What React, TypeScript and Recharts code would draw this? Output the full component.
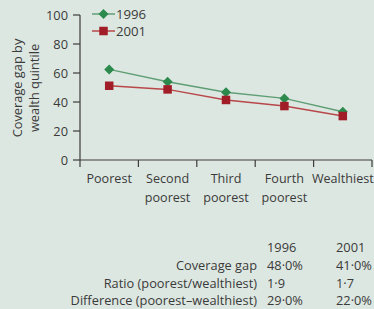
import React from 'react';
import { LineChart, Line, XAxis, YAxis, Legend } from 'recharts';

const categories = ['Poorest', 'Second\npoorest', 'Third\npoorest', 'Fourth\npoorest', 'Wealthiest'];
const gap1996 = [62.5, 54, 46.7, 42.5, 33.3];
const gap2001 = [51.2, 48.7, 41.4, 37.2, 30.3];
const yTicks = [0, 20, 40, 60, 80, 100];
const tableHeader = ['1996', '2001'];
const tableRows = ['Coverage gap', 'Ratio (poorest/wealthiest)', 'Difference (poorest\u2013wealthiest)'];
const table1996 = ['48\u00b70%', '1\u00b79', '29\u00b70%'];
const table2001 = ['41\u00b70%', '1\u00b77', '22\u00b70%'];

const data = categories.map((c, i) => ({ cat: c, y1996: gap1996[i], y2001: gap2001[i] }));

const FONT = '"Open Sans", "Noto Sans", sans-serif';
const TXT = '#3a3a3a';
const AX = '#3c3c3c';
const GREEN = '#2b8a4c';
const GREEN_LINE = '#5f9e74';
const RED = '#a11d27';
const RED_LINE = '#b8474a';
const BG = '#dde7e1';

const W = 374;
const H = 215;
const LEFT = 80;
const RIGHT = 2;
const TOP = 15;
const XH = 55;
const BAND = (W - LEFT - RIGHT) / categories.length;
const TFS = 12.8;

const Diamond = (props: any) => {
  const { cx, cy } = props;
  if (cx == null || cy == null) return null;
  const r = 5;
  return <polygon points={`${cx},${cy - r} ${cx + r},${cy} ${cx},${cy + r} ${cx - r},${cy}`} fill={GREEN} />;
};

const Square = (props: any) => {
  const { cx, cy } = props;
  if (cx == null || cy == null) return null;
  const s = 8.5;
  return <rect x={cx - s / 2} y={cy - s / 2} width={s} height={s} fill={RED} />;
};

const XTick = (props: any) => {
  const { x, y, payload, index } = props;
  const lines = String(payload.value).split('\n');
  const last = index === categories.length - 1;
  return (
    <g>
      <line x1={x - BAND / 2} x2={x - BAND / 2} y1={y} y2={y + 7} stroke={AX} strokeWidth={1.2} />
      {last && <line x1={x + BAND / 2} x2={x + BAND / 2} y1={y} y2={y + 7} stroke={AX} strokeWidth={1.2} />}
      <text x={x} y={y + 23} textAnchor="middle" fill={TXT} fontSize={12.6} fontFamily={FONT}>
        {lines.map((l, i) => (
          <tspan key={i} x={x} dy={i === 0 ? 0 : 18.5}>{l}</tspan>
        ))}
      </text>
    </g>
  );
};

const LegendContent = (props: any) => {
  const items = props.payload || [];
  return (
    <svg width={160} height={45} style={{ display: 'block' }}>
      {items.map((it: any, i: number) => {
        const y = 14 + i * 17;
        const isGreen = it.dataKey === 'y1996';
        return (
          <g key={i}>
            <line x1={92} x2={115} y1={y} y2={y} stroke={isGreen ? GREEN_LINE : RED_LINE} strokeWidth={1.5} />
            {isGreen ? <Diamond cx={103.5} cy={y} /> : <Square cx={103.5} cy={y} />}
            <text x={116} y={y + 5} fill={TXT} fontSize={13.2} fontFamily={FONT}>{it.value}</text>
          </g>
        );
      })}
    </svg>
  );
};

export default function App() {
  return (
    <div style={{ position: 'absolute', left: 0, top: 0, width: W, height: 309, background: BG, overflow: 'hidden', fontFamily: FONT }}>
      <LineChart width={W} height={H} data={data} margin={{ top: TOP, right: RIGHT, left: 0, bottom: 0 }}>
        <XAxis
          dataKey="cat"
          scale="band"
          interval={0}
          height={XH}
          tickSize={0}
          tickMargin={0}
          tickLine={false}
          axisLine={{ stroke: AX, strokeWidth: 1.2 }}
          tick={<XTick />}
        />
        <YAxis
          width={LEFT}
          domain={[0, 100]}
          ticks={yTicks}
          interval={0}
          tickSize={7}
          tickMargin={5}
          axisLine={{ stroke: AX, strokeWidth: 1.2 }}
          tickLine={{ stroke: AX, strokeWidth: 1.2 }}
          tick={{ fill: TXT, fontSize: 12.8, fontFamily: FONT }}
        />
        <Legend
          layout="vertical"
          verticalAlign="middle"
          align="center"
          wrapperStyle={{ left: 0, top: 0, width: 160, height: 45 }}
          content={<LegendContent />}
        />
        <Line dataKey="y1996" name="1996" stroke={GREEN_LINE} strokeWidth={1.5} dot={<Diamond />} activeDot={false} isAnimationActive={false} />
        <Line dataKey="y2001" name="2001" stroke={RED_LINE} strokeWidth={1.5} dot={<Square />} activeDot={false} isAnimationActive={false} />
      </LineChart>
      <svg width={W} height={309} style={{ position: 'absolute', left: 0, top: 0, pointerEvents: 'none' }}>
        <text transform="rotate(-90)" textAnchor="middle" fill={TXT} fontSize={12.8} fontFamily={FONT}>
          <tspan x={-88} y={22}>Coverage gap by</tspan>
          <tspan x={-88} y={39}>wealth quintile</tspan>
        </text>
        {tableHeader.map((h, i) => (
          <text key={'h' + i} x={i === 0 ? 267 : 336} y={252} fill={TXT} fontSize={TFS} fontFamily={FONT}>{h}</text>
        ))}
        {tableRows.map((r, i) => {
          const y = 270 + i * 17.5;
          return (
            <g key={'r' + i}>
              <text x={257} y={y} textAnchor="end" fill={TXT} fontSize={TFS} fontFamily={FONT}>{r}</text>
              <text x={267} y={y} fill={TXT} fontSize={TFS} fontFamily={FONT}>{table1996[i]}</text>
              <text x={336} y={y} fill={TXT} fontSize={TFS} fontFamily={FONT}>{table2001[i]}</text>
            </g>
          );
        })}
      </svg>
    </div>
  );
}
